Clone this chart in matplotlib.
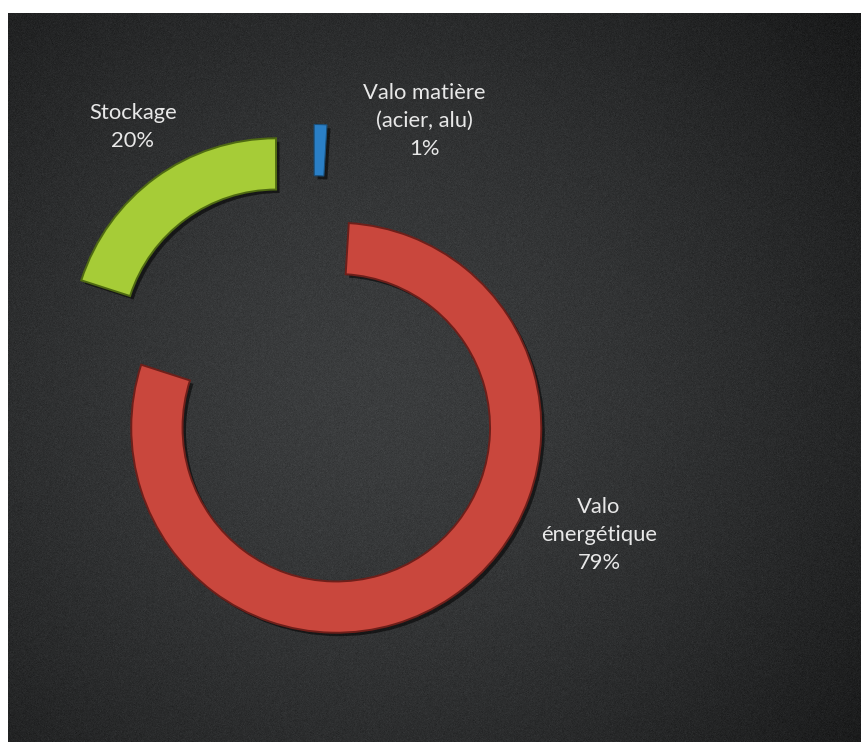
import numpy as np
import matplotlib
matplotlib.use("Agg")
import matplotlib.pyplot as plt
import matplotlib.patheffects as pe

# Chart content
categories = ["Valo\nénergétique", "Stockage", "Valo matière\n(acier, alu)"]
shares = [79, 20, 1]
colors = ["#c9473d", "#a6cc37", "#2a7fc6"]
edge_colors = ["#6e1f1a", "#4f6a12", "#1a4f7a"]
explode = [0.205, 0.30, 0.31]

W, H, DPI = 861, 742, 100
fig = plt.figure(figsize=(W / DPI, H / DPI), dpi=DPI, facecolor="white")

# Dark chalkboard panel with a soft radial vignette
left_px, top_px = 8, 13
bg_ax = fig.add_axes([left_px / W, 0, 1 - left_px / W, 1 - top_px / H])
bg_ax.set_axis_off()
ny, nx = H - top_px, W - left_px
yy, xx = np.mgrid[0:ny, 0:nx]
cx, cy = 360.0, 380.0
d = np.sqrt(((xx - cx) / 560.0) ** 2 + ((yy - cy) / 520.0) ** 2)
base = 61 - 29 * np.clip(d, 0, 1.3) ** 1.5
rng = np.random.default_rng(7)
grain = rng.normal(0, 3.0, size=(ny, nx))
lum = np.clip(base + grain, 0, 255)
img = np.stack([lum * 0.97, lum * 1.0, lum * 1.02], axis=-1) / 255.0
bg_ax.imshow(np.clip(img, 0, 1), aspect="auto", interpolation="bilinear")

# Donut axes: 1 data unit = outer radius (205 px), pie centre at pixel (312.6, 393)
R_PX = 205.0
PX, PY = 312.6, 393.0
ax = fig.add_axes([0, 0, 1, 1])
ax.patch.set_alpha(0)

wedges, _ = ax.pie(
    shares,
    colors=colors,
    explode=explode,
    startangle=86.5,
    counterclock=False,
    radius=1.0,
    wedgeprops=dict(width=0.25, linewidth=1.4),
)
for w, ec in zip(wedges, edge_colors):
    w.set_edgecolor(ec)
    w.set_path_effects([
        pe.SimplePatchShadow(offset=(2.5, -2.5), shadow_rgbFace="black", alpha=0.55),
        pe.Normal(),
    ])
wedges[2].set_linewidth(0.8)

ax.set_xlim(-PX / R_PX, (W - PX) / R_PX)
ax.set_ylim((PY - H) / R_PX, PY / R_PX)
ax.set_aspect("auto")
ax.set_axis_off()

# Labels: category and share
label_px = [(599, 535), (133, 127), (424, 121)]
for name, val, (lx, ly) in zip(categories, shares, label_px):
    fig.text(lx / W, 1 - ly / H, f"{name}\n{val}%", ha="center", va="center",
             fontsize=15.8, family="Lato", color="#e8e8e8", linespacing=1.48)

fig.savefig("out.png", dpi=DPI, facecolor=fig.get_facecolor())
